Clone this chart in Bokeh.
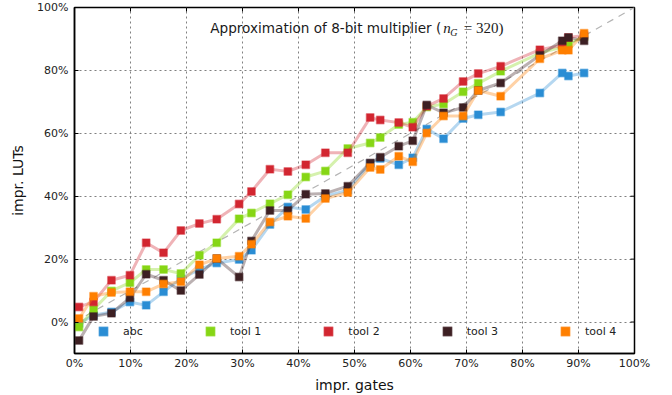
from bokeh.plotting import figure
from bokeh.models import (Legend, LegendItem, Label, PrintfTickFormatter,
                          FixedTicker, Range1d)
from bokeh.embed import file_html
from bokeh.resources import INLINE

# ---- data ----
gates = [0.8, 3.4, 6.6, 9.9, 12.8, 15.9, 19.0, 22.3, 25.4, 29.4, 31.6, 34.9, 38.1, 41.3, 44.8,
         48.8, 52.8, 54.6, 57.9, 60.4, 62.9, 65.9, 69.4, 72.1, 76.1, 83.1, 87.1, 88.2, 91.0]
abc = [-0.5, 2.2, 3.2, 6.4, 5.3, 9.6, 13.8, 16.7, 18.8, 19.9, 22.8, 31.0, 36.6, 35.8, 40.0,
       41.9, 50.4, 52.0, 50.0, 52.2, 61.4, 58.3, 64.7, 65.9, 66.8, 72.8, 79.2, 78.2, 79.2]
tool1 = [-1.6, 4.0, 9.9, 12.5, 16.7, 16.7, 15.4, 21.2, 25.2, 32.8, 34.7, 37.6, 40.5, 46.1, 48.0,
         55.2, 56.9, 58.7, 62.8, 63.5, 68.4, 69.3, 73.2, 75.9, 79.7, 85.5, 87.4, 88.5, 90.7]
tool2 = [4.8, 6.4, 13.3, 14.9, 25.2, 22.0, 29.1, 31.3, 32.7, 37.5, 41.5, 48.6, 47.9, 50.0, 53.8,
         53.8, 65.0, 64.2, 63.4, 61.9, 68.6, 71.1, 76.5, 79.0, 81.3, 86.6, 88.0, 90.5, 91.1]
tool3 = [-5.9, 1.8, 2.8, 7.7, 15.2, 13.3, 10.0, 15.1, 20.2, 14.3, 25.8, 35.5, 35.5, 40.6, 40.9,
         43.2, 50.6, 52.4, 55.9, 57.6, 69.0, 66.5, 68.2, 73.6, 76.0, 84.8, 89.4, 90.5, 89.4]
tool4 = [1.1, 8.2, 9.4, 9.6, 9.6, 12.1, 12.8, 18.2, 20.2, 20.9, 24.7, 31.8, 33.6, 32.9, 39.3,
         41.2, 49.1, 48.5, 52.7, 51.0, 60.1, 65.5, 65.5, 73.6, 71.8, 83.7, 86.4, 86.4, 91.8]
series_names = ["abc", "tool 1", "tool 2", "tool 3", "tool 4"]
series_colors = ["#2a8dd4", "#86d615", "#d22630", "#3d2023", "#ff7f00"]
x_ticks = [0, 10, 20, 30, 40, 50, 60, 70, 80, 90, 100]
y_ticks = [0, 20, 40, 60, 80, 100]
diag = [0, 100]

FONT = "DejaVu Sans"
X0, X1, Y0, Y1 = 0, 100, -10, 100
FW, FH = 560, 346  # frame size in px

p = figure(width=672, height=395, output_backend="svg", toolbar_location=None,
           x_range=Range1d(X0, X1), y_range=Range1d(Y0, Y1),
           min_border_left=74, min_border_right=38, min_border_top=7, min_border_bottom=42,
           x_axis_label="impr. gates", y_axis_label="impr. LUTs")
p.background_fill_color = "white"
p.border_fill_color = "white"
p.outline_line_color = "black"
p.outline_line_width = 1.5
p.outline_line_alpha = 1

for ax, ticks in ((p.xaxis[0], x_ticks), (p.yaxis[0], y_ticks)):
    ax.ticker = FixedTicker(ticks=ticks)
    ax.formatter = PrintfTickFormatter(format="%d%%")
    ax.major_tick_in = 4
    ax.major_tick_out = 0
    ax.minor_tick_in = 0
    ax.minor_tick_out = 0
    ax.axis_line_color = "black"
    ax.axis_line_width = 1.5
    ax.major_label_text_font = FONT
    ax.major_label_text_font_size = "11px"
    ax.major_label_text_color = "#222222"
    ax.axis_label_text_font = FONT
    ax.axis_label_text_font_size = "14px"
    ax.axis_label_text_font_style = "normal"
    ax.axis_label_text_color = "#111111"
p.xaxis[0].major_label_standoff = 3
p.xaxis[0].axis_label_standoff = 4
p.yaxis[0].major_label_standoff = 6
p.yaxis[0].axis_label_standoff = 8

# inward tick marks on the top and right frame edges
tick_len_y = 4 * (Y1 - Y0) / FH
tick_len_x = 4 * (X1 - X0) / FW
p.segment(x0=x_ticks, y0=[Y1] * len(x_ticks), x1=x_ticks, y1=[Y1 - tick_len_y] * len(x_ticks),
          line_color="black", line_width=1)
p.segment(x0=[X1] * len(y_ticks), y0=y_ticks, x1=[X1 - tick_len_x] * len(y_ticks), y1=y_ticks,
          line_color="black", line_width=1)

p.xgrid.ticker = FixedTicker(ticks=x_ticks)
p.ygrid.ticker = FixedTicker(ticks=y_ticks)
for g in (p.xgrid[0], p.ygrid[0]):
    g.grid_line_color = "#808080"
    g.grid_line_dash = "2 3"
    g.grid_line_width = 1

p.line(diag, diag, line_color="#b4b4b4", line_width=1.2, line_dash="7 6")

items = []
for name, vals, col in zip(series_names, [abc, tool1, tool2, tool3, tool4], series_colors):
    p.line(gates, vals, line_color=col, line_alpha=0.35, line_width=3)
    r = p.scatter(gates, vals, marker="square", size=7.5, fill_color=col, fill_alpha=1,
                  line_color=col, line_alpha=0.45, line_width=1.5)
    items.append(LegendItem(label=name, renderers=[r]))

legend = Legend(items=items, orientation="horizontal", location=(18, 11), padding=0, margin=0,
                spacing=56, glyph_width=22, glyph_height=22, label_height=22,
                label_standoff=9, label_text_font=FONT, label_text_font_size="11px",
                label_text_color="#222222", border_line_alpha=0, background_fill_alpha=0)
p.add_layout(legend, "center")

# title inside the plot
p.add_layout(Label(x=65.5, y=93.6, text="Approximation of 8-bit multiplier (", text_align="right",
                   text_baseline="middle", text_font=FONT, text_font_size="13.6px",
                   text_color="#1a1a1a"))
p.add_layout(Label(x=65.84, y=93.5, text="n", text_align="left", text_baseline="middle",
                   text_font="Liberation Serif", text_font_style="italic", text_font_size="15px",
                   text_color="#1a1a1a"))
p.add_layout(Label(x=67.1, y=92.1, text="G", text_align="left", text_baseline="middle",
                   text_font="Liberation Serif", text_font_style="italic", text_font_size="10px",
                   text_color="#1a1a1a"))
p.add_layout(Label(x=69.5, y=93.5, text="= 320)", text_align="left", text_baseline="middle",
                   text_font="Liberation Serif", text_font_size="15px", text_color="#1a1a1a"))

open("out.html", "w").write(file_html(p, INLINE))
